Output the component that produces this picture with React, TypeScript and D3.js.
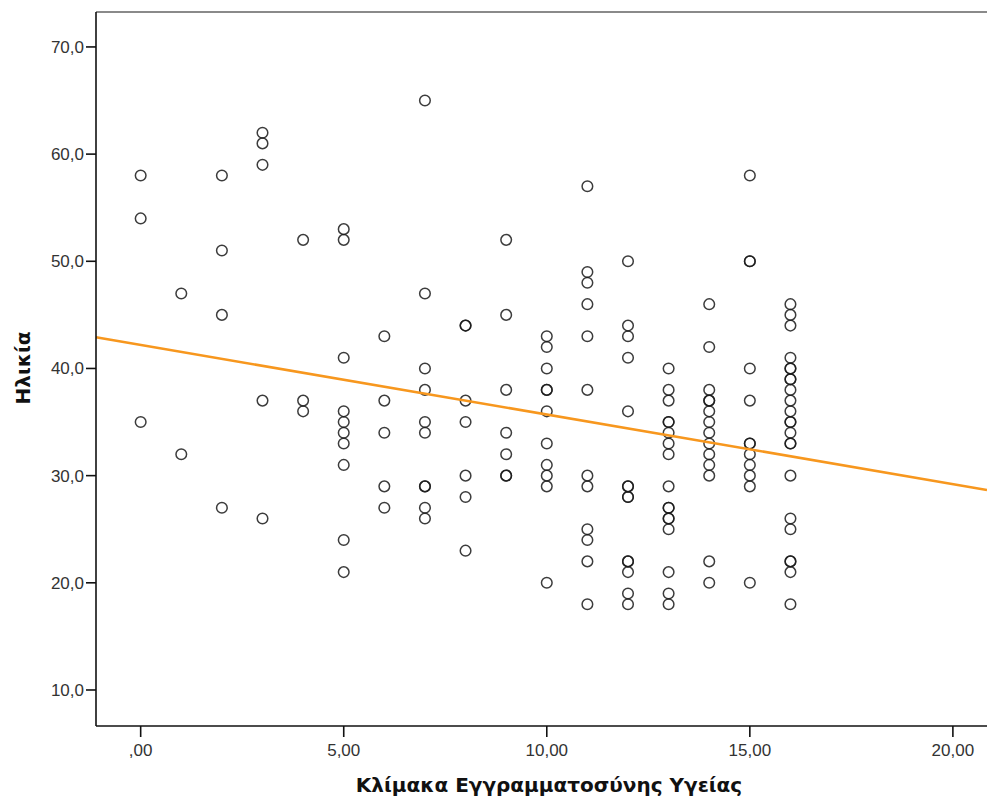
import React from "react";
import * as d3 from "d3";

// Health literacy scale score (x) and age (y) – one array of ages per score
const scores = [0, 1, 2, 3, 4, 5, 6, 7, 8, 9, 10, 11, 12, 13, 14, 15, 16];
const agesByScore: number[][] = [
  [58, 54, 35],
  [47, 32],
  [58, 51, 45, 27],
  [62, 61, 59, 37, 26],
  [52, 37, 36],
  [53, 52, 41, 36, 35, 34, 33, 31, 24, 21],
  [43, 37, 34, 29, 27],
  [65, 47, 40, 38, 35, 34, 29, 29, 27, 26],
  [44, 44, 37, 35, 30, 28, 23],
  [52, 45, 38, 34, 32, 30, 30],
  [43, 42, 40, 38, 38, 36, 33, 31, 30, 29, 20],
  [57, 49, 48, 46, 43, 38, 30, 29, 25, 24, 22, 18],
  [50, 44, 43, 41, 36, 29, 29, 28, 28, 22, 22, 21, 19, 18],
  [40, 38, 37, 35, 35, 34, 33, 32, 29, 27, 27, 26, 26, 25, 21, 19, 18],
  [46, 42, 38, 37, 37, 36, 35, 34, 33, 32, 31, 30, 22, 20],
  [58, 50, 50, 40, 37, 33, 33, 32, 31, 30, 29, 20],
  [46, 45, 44, 41, 40, 40, 39, 39, 38, 37, 36, 35, 35, 34, 33, 33, 30, 26, 25, 22, 22, 21, 18],
];

// Fit line
const fitIntercept = 42.19;
const fitSlope = -0.649;

const xTicks = [0, 5, 10, 15, 20];
const xTickLabels = [",00", "5,00", "10,00", "15,00", "20,00"];
const yTicks = [10, 20, 30, 40, 50, 60, 70];
const yTickLabels = ["10,0", "20,0", "30,0", "40,0", "50,0", "60,0", "70,0"];

const xTitle = "Κλίμακα Εγγραμματοσύνης Υγείας";
const yTitle = "Ηλικία";

export default function App() {
  const W = 987;
  const H = 802;
  const left = 96;
  const right = 987;
  const top = 12;
  const bottom = 726;

  const x = d3.scaleLinear().domain([-1.1, 20.84]).range([left, right]);
  const y = d3.scaleLinear().domain([6.64, 73.26]).range([bottom, top]);

  const points: { sx: number; age: number }[] = [];
  scores.forEach((s, i) => agesByScore[i].forEach((a) => points.push({ sx: s, age: a })));

  const xd = x.domain();
  const fitPts: [number, number][] = [xd[0], xd[1]].map((v) => [v, fitIntercept + fitSlope * v]);
  const line = d3
    .line<[number, number]>()
    .x((d) => x(d[0]))
    .y((d) => y(d[1]));

  const font = "'Liberation Sans', Arial, sans-serif";
  const titleFont = "'DejaVu Sans', Verdana, sans-serif";

  return (
    <svg
      width={W}
      height={H}
      style={{ position: "absolute", left: 0, top: 0, background: "#fff" }}
      fontFamily={font}
    >
      <rect x={0} y={0} width={W} height={H} fill="#fff" />
      {/* top frame */}
      <line x1={left} x2={right} y1={top} y2={top} stroke="#8a8a8a" strokeWidth={2} />
      {/* points */}
      <g>
        {points.map((p, i) => (
          <circle
            key={i}
            cx={x(p.sx)}
            cy={y(p.age)}
            r={5.3}
            fill="none"
            stroke="#1a1a1a"
            strokeOpacity={0.85}
            strokeWidth={1.5}
          />
        ))}
      </g>
      {/* fit line */}
      <path d={line(fitPts) || ""} fill="none" stroke="#f7971e" strokeWidth={2.6} />
      {/* axes */}
      <line x1={left} x2={left} y1={top} y2={bottom} stroke="#111" strokeWidth={1.6} />
      <line x1={left} x2={right} y1={bottom} y2={bottom} stroke="#111" strokeWidth={1.6} />
      {yTicks.map((t, i) => (
        <g key={"y" + i}>
          <line x1={left - 10} x2={left} y1={y(t)} y2={y(t)} stroke="#111" strokeWidth={1.6} />
          <text
            x={left - 12}
            y={y(t)}
            dy="0.35em"
            textAnchor="end"
            fontSize={17}
            fill="#333"
          >
            {yTickLabels[i]}
          </text>
        </g>
      ))}
      {xTicks.map((t, i) => (
        <g key={"x" + i}>
          <line x1={x(t)} x2={x(t)} y1={bottom} y2={bottom + 11} stroke="#111" strokeWidth={1.6} />
          <text x={x(t)} y={bottom + 30} textAnchor="middle" fontSize={17} fill="#333">
            {xTickLabels[i]}
          </text>
        </g>
      ))}
      <text
        x={549}
        y={792}
        textAnchor="middle"
        fontSize={20}
        fontWeight="bold"
        fontFamily={titleFont}
        fill="#111"
      >
        {xTitle}
      </text>
      <text
        transform={`translate(30, 368) rotate(-90)`}
        textAnchor="middle"
        fontSize={20}
        fontWeight="bold"
        fontFamily={titleFont}
        fill="#111"
      >
        {yTitle}
      </text>
    </svg>
  );
}
